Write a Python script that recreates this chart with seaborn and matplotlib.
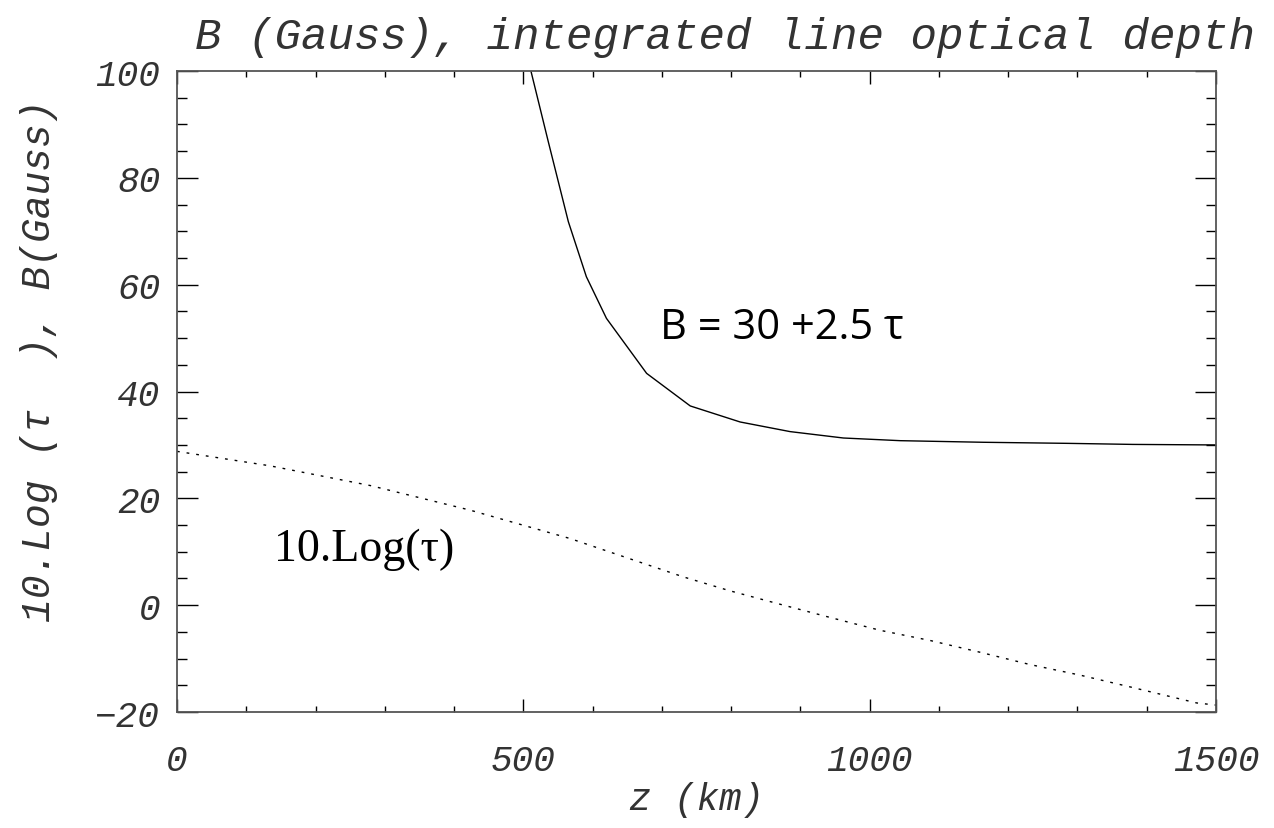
import matplotlib
matplotlib.use("Agg")
import matplotlib.pyplot as plt
import seaborn as sns
import pandas as pd
from matplotlib.ticker import MultipleLocator

# --- data ---
z_B = [511, 536, 565, 591, 620, 678, 741, 813, 885, 962, 1044, 1164, 1285, 1380, 1500]
B_gauss = [100, 86.8, 71.8, 61.5, 53.7, 43.4, 37.3, 34.3, 32.5, 31.3, 30.8, 30.5, 30.3, 30.1, 30.0]

z_tau = [0, 134, 279, 423, 567, 731, 798, 870, 943, 1015, 1087, 1159, 1231, 1304, 1376, 1424, 1472, 1500]
log_tau = [28.8, 26.1, 22.4, 17.8, 12.5, 5.3, 2.7, 0.2, -2.3, -4.7, -6.6, -8.8, -11.1, -13.1, -15.3, -16.8, -18.3, -18.7]

x_ticks = [0, 500, 1000, 1500]
y_ticks = [-20, 0, 20, 40, 60, 80, 100]

title_text = "B (Gauss), integrated line optical depth"
xlabel_text = "z (km)"
ylabel_text = "10.Log (τ  ), B(Gauss)"
ann_B = "B = 30 +2.5 τ"
ann_tau = "10.Log(τ)"

sns.set_theme(style="ticks")
plt.rcParams["font.family"] = ["Liberation Mono", "DejaVu Sans"]

fig = plt.figure(figsize=(12.74, 8.29), dpi=100)
ax = fig.add_axes([0.1389, 0.1399, 0.8156, 0.7732])

dfB = pd.DataFrame({"z": z_B, "v": B_gauss})
dfT = pd.DataFrame({"z": z_tau, "v": log_tau})
sns.lineplot(data=dfB, x="z", y="v", ax=ax, color="black", lw=1.0)
sns.lineplot(data=dfT, x="z", y="v", ax=ax, color="black", lw=1.0, linestyle=(0, (2, 5)))

ax.set_xlim(0, 1500)
ax.set_ylim(-20, 100)
ax.set_xticks(x_ticks)
ax.set_yticks(y_ticks)
ax.xaxis.set_minor_locator(MultipleLocator(100))
ax.yaxis.set_minor_locator(MultipleLocator(5))
ax.tick_params(which="both", direction="in", top=True, right=True, color="black", width=1.0)
ax.tick_params(axis="x", which="major", length=9.5, pad=22)
ax.tick_params(axis="x", which="minor", length=4.5)
ax.tick_params(axis="y", which="major", length=15, pad=12)
ax.tick_params(axis="y", which="minor", length=7.5)

tick_font = dict(family=["Liberation Mono", "DejaVu Sans"], style="italic", size=26, color="#333333")
ax.set_xticklabels([str(v) for v in x_ticks], **tick_font)
ax.set_yticklabels([str(v).replace("-", "\u2212") for v in y_ticks], **tick_font)

for s in ax.spines.values():
    s.set_color("#555555")
    s.set_linewidth(1.3)

ax.set_xlabel("")
ax.set_ylabel("")

fig.text(0.569, 0.955, title_text, ha="center", va="center", fontsize=31.8,
         family=["Liberation Mono", "DejaVu Sans"], style="italic", color="#333333")
fig.text(0.547, 0.035, xlabel_text, ha="center", va="center", fontsize=27,
         family=["Liberation Mono", "DejaVu Sans"], style="italic", color="#333333")
fig.text(0.031, 0.565, ylabel_text, ha="center", va="center", rotation=90, fontsize=28.5,
         family=["Liberation Mono", "DejaVu Sans"], style="italic", color="#333333")

ax.text(698, 52, ann_B, fontsize=30, family=["Open Sans", "DejaVu Sans"], color="black",
        ha="left", va="center")
ax.text(140, 10.5, ann_tau, fontsize=33, family=["Liberation Serif", "DejaVu Serif"], color="black",
        ha="left", va="center")

fig.savefig("out.png", dpi=100)
